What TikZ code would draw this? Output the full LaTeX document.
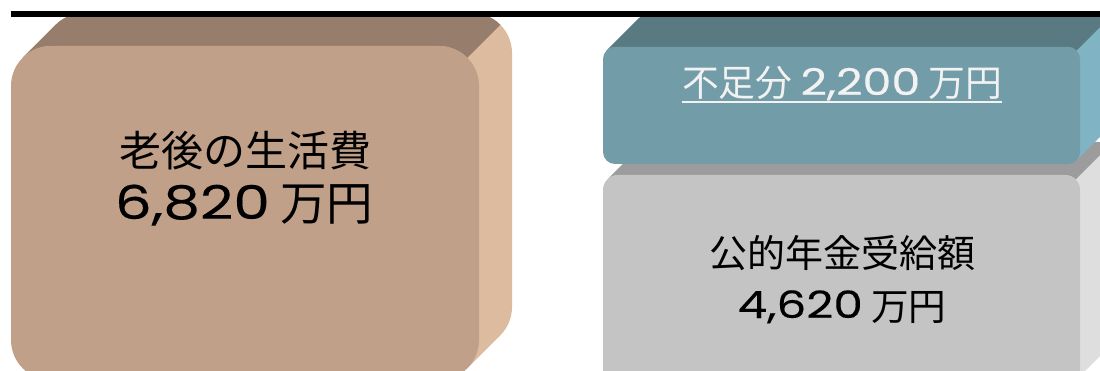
\documentclass[tikz,border=0pt]{standalone}
\usepackage{fontspec}
\newfontfamily\jp{Noto Sans CJK JP}
\newfontfamily\dig[FakeStretch=1.25,FakeBold=0.3]{Poppins}
\definecolor{brFront}{HTML}{C0A088}
\definecolor{brTop}{HTML}{977D6B}
\definecolor{brSide}{HTML}{DDBB9E}
\definecolor{tlFront}{HTML}{729CA8}
\definecolor{tlTop}{HTML}{5A7A82}
\definecolor{tlSide}{HTML}{80B4C4}
\definecolor{gyFront}{HTML}{C4C4C4}
\definecolor{gyTop}{HTML}{9C9C9C}
\definecolor{gySide}{HTML}{DEDEDE}
\definecolor{txtWhite}{HTML}{F2F2F2}
% #1 x0, #2 yb, #3 x1, #4 yt, #5 r, #6 d, #7 front, #8 top, #9 side
\newcommand\threedbox[9]{%
 \pgfmathsetmacro\kk{#5*0.7071}%
 \fill[#9, rounded corners=#5pt] (#1+#6,#2+#6) rectangle (#3+#6,#4+#6);
 \fill[#9] (#1+#5-\kk, #4-#5+\kk) -- ++(#6,#6) -- (#3-#5+\kk+#6, #2+#5-\kk+#6) -- ++(-#6,-#6) -- cycle;
 \fill[#8] (#1+#5-\kk, #4-#5+\kk) arc[start angle=135, end angle=90, radius=#5] -- (#3-#5, #4) arc[start angle=90, end angle=45, radius=#5] -- ++(#6,#6) arc[start angle=45, end angle=90, radius=#5] -- (#1+#5+#6, #4+#6) arc[start angle=90, end angle=135, radius=#5] -- cycle;
 \fill[#7, rounded corners=#5pt] (#1,#2) rectangle (#3,#4);
}
\newcommand\kj[1]{\raisebox{-2pt}{\jp #1}}
\begin{document}
\begin{tikzpicture}[x=1pt,y=1pt,
  lbl/.style={inner sep=0pt, anchor=base},
  bigtxt/.style={font=\fontsize{46.5}{52}\selectfont},
  midtxt/.style={font=\fontsize{42}{48}\selectfont},
  teal txt/.style={font=\fontsize{36.8}{40}\selectfont, text=txtWhite},
  gray txt/.style={font=\fontsize{38}{44}\selectfont},
  gray num/.style={font=\fontsize{37.6}{44}\selectfont}]
\useasboundingbox (0,0) rectangle (1100,370);
\clip (0,0) rectangle (1100,370);
% boxes
\threedbox{603}{-15}{1080}{195}{15}{33}{gyFront}{gyTop}{gySide}
\threedbox{603}{206}{1080}{323}{12}{32}{tlFront}{tlTop}{tlSide}
\threedbox{11}{-10}{479}{324}{40}{33}{brFront}{brTop}{brSide}
% top rule
\coordinate (ruleL) at (11,356.4);
\coordinate (ruleR) at (1100,356.4);
\draw[line width=6pt] (ruleL) -- (ruleR);
% texts
\node[lbl, midtxt] (life) at (245,204) {\jp 老後の生活費};
\node[lbl, bigtxt] (lifeval) at (244,151) {{\dig 6,820}\hspace{0.22em}\kj{万円}};
\node[lbl, teal txt] (gap) at (842,275) {\kj{不足分}\hspace{0.22em}{\dig 2,200}\hspace{0.22em}\kj{万円}};
\draw[txtWhite, line width=2pt] ([yshift=-7pt]gap.base west) -- ([yshift=-7pt]gap.base east);
\node[lbl, gray txt] (pension) at (842,103) {\jp 公的年金受給額};
\node[lbl, gray num] (pensionval) at (842,52) {{\dig 4,620}\hspace{0.22em}\kj{万円}};
\end{tikzpicture}
\end{document}
